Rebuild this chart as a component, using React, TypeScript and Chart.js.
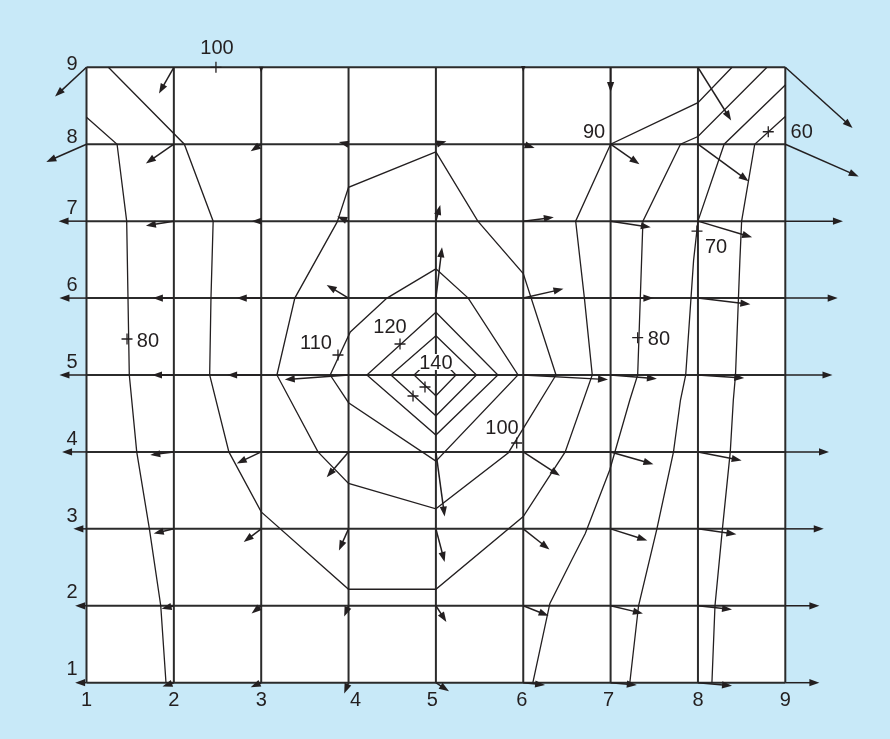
import React, { useEffect, useRef } from "react";
import { Chart, registerables } from "chart.js";

Chart.register(...registerables);

// ---------- data ----------
const GRID_X = [1, 2, 3, 4, 5, 6, 7, 8, 9];
const GRID_Y = [1, 2, 3, 4, 5, 6, 7, 8, 9];
const TICK_LABELS = ["1", "2", "3", "4", "5", "6", "7", "8", "9"];

// gradient vectors at grid nodes, rows from y = 9 down to y = 1, columns x = 1..9
const ARROW_ROWS_Y = [9, 8, 7, 6, 5, 4, 3, 2, 1];
const ARROW_U = [
  [-0.36, -0.17, 0, 0, 0, 0, 0, 0.38, 0.77],
  [-0.46, -0.32, -0.12, -0.11, 0.12, 0.13, 0.33, 0.58, 0.84],
  [-0.32, -0.32, -0.11, -0.13, 0.05, 0.35, 0.46, 0.62, 0.66],
  [-0.31, -0.24, -0.28, -0.25, 0.07, 0.46, 0.49, 0.6, 0.6],
  [-0.31, -0.25, -0.39, -0.73, 0, 0.97, 0.53, 0.53, 0.54],
  [-0.28, -0.27, -0.28, -0.25, 0.1, 0.42, 0.49, 0.5, 0.5],
  [-0.15, -0.23, -0.2, -0.11, 0.1, 0.3, 0.42, 0.44, 0.44],
  [-0.13, -0.14, -0.11, -0.05, 0.12, 0.29, 0.37, 0.39, 0.39],
  [-0.13, -0.13, -0.12, -0.05, 0.15, 0.25, 0.3, 0.39, 0.39],
];
const ARROW_V = [
  [-0.38, -0.34, -0.07, 0, 0, -0.06, -0.32, -0.69, -0.79],
  [-0.23, -0.25, -0.09, 0.03, 0.04, -0.05, -0.26, -0.48, -0.42],
  [0, -0.06, 0, 0.06, 0.21, 0.05, -0.08, -0.21, 0],
  [0, 0, 0, 0.17, 0.66, 0.12, 0, -0.08, 0],
  [0, 0, 0, -0.06, 0, -0.06, -0.05, -0.04, 0],
  [0, -0.04, -0.15, -0.33, -0.84, -0.31, -0.16, -0.11, 0],
  [0, -0.06, -0.17, -0.28, -0.43, -0.27, -0.15, -0.07, 0],
  [0, -0.04, -0.1, -0.14, -0.21, -0.13, -0.1, -0.05, 0],
  [0, -0.05, -0.06, -0.14, -0.11, -0.03, -0.03, -0.04, 0],
];

// contour lines (x, y)
const contour80L = [[1.0, 8.35], [1.35, 8.0], [1.46, 7.0], [1.475, 6.0], [1.49, 5.0], [1.575, 4.0], [1.72, 3.0], [1.85, 2.0], [1.91, 1.0]];
const contour90 = [[1.25, 9.0], [2.12, 8.0], [2.45, 7.0], [2.425, 6.0], [2.41, 5.0], [2.63, 4.0], [3.0, 3.22], [4.0, 2.215], [5.0, 2.215], [6.0, 3.16], [6.48, 4.0], [6.79, 5.0], [6.7, 6.0], [6.6, 7.0], [7.0, 8.0], [8.0, 8.54], [8.39, 9.0]];
const contour100 = [[5.0, 7.9], [5.48, 7.0], [6.0, 6.32], [6.375, 5.0], [5.83, 3.99], [5.0, 3.26], [4.0, 3.59], [3.65, 4.0], [3.18, 5.0], [3.385, 6.0], [3.87, 6.99], [4.0, 7.44], [5.0, 7.9]];
const contour110 = [[5.0, 6.38], [5.37, 6.0], [5.94, 5.0], [5.0, 3.88], [4.0, 4.64], [3.79, 5.0], [4.02, 5.56], [4.44, 6.0], [5.0, 6.38]];
const contour120 = [[5.0, 5.815], [5.71, 5.0], [5.0, 4.22], [4.21, 5.0], [5.0, 5.815]];
const contour130 = [[5.0, 5.51], [5.465, 5.0], [5.0, 4.47], [4.485, 5.0], [5.0, 5.51]];
const contour140 = [[5.0, 5.27], [5.23, 5.0], [5.0, 4.73], [4.75, 5.0], [5.0, 5.27]];
const contour80R = [[8.79, 9.0], [8.0, 8.1], [7.8, 8.0], [7.37, 7.0], [7.31, 5.0], [7.22, 4.675], [6.99, 3.765], [6.71, 2.94], [6.555, 2.595], [6.305, 2.03], [6.11, 1.0]];
const contour70 = [[9.0, 8.77], [8.3, 8.0], [8.0, 7.0], [7.95, 6.49], [7.86, 5.0], [7.8, 4.675], [7.72, 4.0], [7.53, 3.0], [7.32, 2.0], [7.22, 1.0]];
const contour60 = [[9.0, 8.36], [8.65, 8.0], [8.5, 7.0], [8.48, 6.49], [8.43, 5.0], [8.405, 4.675], [8.37, 4.0], [8.28, 3.0], [8.195, 2.0], [8.16, 1.0]];
const CONTOURS = [contour80L, contour90, contour100, contour110, contour120, contour130, contour140, contour80R, contour70, contour60];

// contour value labels
const LABEL_TEXT = ["100", "90", "60", "70", "80", "80", "110", "120", "140", "100"];
const LABEL_X = [2.494, 6.81, 9.188, 8.207, 1.704, 7.554, 3.627, 4.474, 5.0, 5.757];
const LABEL_Y = [9.263, 8.171, 8.171, 6.677, 5.455, 5.48, 5.429, 5.637, 5.169, 4.324];
const LABEL_BOXED = [false, false, false, false, false, false, false, false, true, false];

// "+" marks
const PLUS_X = [2.482, 8.805, 7.989, 1.464, 7.31, 3.879, 4.589, 5.925, 4.875, 4.738];
const PLUS_Y = [9.0, 8.162, 6.871, 5.468, 5.485, 5.26, 5.403, 4.116, 4.844, 4.727];

// ---------- style ----------
const BG = "#c8e9f8";
const INK = "#231f20";
const FONT = '20px "Liberation Sans", Arial, sans-serif';
const HEAD_LEN = 10;
const HEAD_W = 3.6;
const X_TICK_SHIFT: Record<string, number> = { "4": 7, "5": -3.5, "6": -1.5, "7": -2 };
const Y_TICK_RAISE: Record<string, number> = { "9": 5, "8": 8.5 };

function drawArrow(ctx: CanvasRenderingContext2D, x0: number, y0: number, x1: number, y1: number) {
  const dx = x1 - x0;
  const dy = y1 - y0;
  const len = Math.hypot(dx, dy);
  if (len < 0.5) return;
  const ux = dx / len;
  const uy = dy / len;
  const hl = Math.min(HEAD_LEN, Math.max(len, 6));
  const hw = (HEAD_W * hl) / HEAD_LEN;
  const bx = x1 - ux * hl;
  const by = y1 - uy * hl;
  if (len > hl) {
    ctx.beginPath();
    ctx.moveTo(x0, y0);
    ctx.lineTo(bx + ux * 1, by + uy * 1);
    ctx.stroke();
  }
  ctx.beginPath();
  ctx.moveTo(x1, y1);
  ctx.lineTo(bx - uy * hw, by + ux * hw);
  ctx.lineTo(bx + uy * hw, by - ux * hw);
  ctx.closePath();
  ctx.fill();
}

const decorPlugin = {
  id: "fieldDecor",
  beforeDraw(chart: any) {
    const { ctx, width, height } = chart;
    const xs = chart.scales.x;
    const ys = chart.scales.y;
    ctx.save();
    ctx.fillStyle = BG;
    ctx.fillRect(0, 0, width, height);
    const l = xs.getPixelForValue(GRID_X[0]);
    const r = xs.getPixelForValue(GRID_X[GRID_X.length - 1]);
    const t = ys.getPixelForValue(GRID_Y[GRID_Y.length - 1]);
    const b = ys.getPixelForValue(GRID_Y[0]);
    ctx.fillStyle = "#ffffff";
    ctx.fillRect(l, t, r - l, b - t);
    ctx.restore();
  },
  beforeDatasetsDraw(chart: any) {
    const { ctx } = chart;
    const xs = chart.scales.x;
    const ys = chart.scales.y;
    const l = xs.getPixelForValue(GRID_X[0]);
    const r = xs.getPixelForValue(GRID_X[GRID_X.length - 1]);
    const t = ys.getPixelForValue(GRID_Y[GRID_Y.length - 1]);
    const b = ys.getPixelForValue(GRID_Y[0]);
    ctx.save();
    ctx.strokeStyle = "#2b2b2b";
    ctx.lineWidth = 2;
    GRID_X.forEach((gx) => {
      const p = xs.getPixelForValue(gx);
      ctx.beginPath();
      ctx.moveTo(p, t);
      ctx.lineTo(p, b);
      ctx.stroke();
    });
    GRID_Y.forEach((gy) => {
      const p = ys.getPixelForValue(gy);
      ctx.beginPath();
      ctx.moveTo(l, p);
      ctx.lineTo(r, p);
      ctx.stroke();
    });
    ctx.restore();
  },
  afterDatasetsDraw(chart: any) {
    const { ctx } = chart;
    const xs = chart.scales.x;
    const ys = chart.scales.y;
    ctx.save();
    // arrows
    ctx.strokeStyle = INK;
    ctx.fillStyle = INK;
    ctx.lineWidth = 1.5;
    ARROW_ROWS_Y.forEach((gy, ri) => {
      GRID_X.forEach((gx, ci) => {
        const u = ARROW_U[ri][ci];
        const v = ARROW_V[ri][ci];
        if (u === 0 && v === 0) return;
        drawArrow(
          ctx,
          xs.getPixelForValue(gx),
          ys.getPixelForValue(gy),
          xs.getPixelForValue(gx + u),
          ys.getPixelForValue(gy + v)
        );
      });
    });
    // contour labels
    ctx.font = FONT;
    ctx.textAlign = "center";
    ctx.textBaseline = "alphabetic";
    LABEL_TEXT.forEach((txt, i) => {
      const px = xs.getPixelForValue(LABEL_X[i]);
      const py = ys.getPixelForValue(LABEL_Y[i]);
      if (LABEL_BOXED[i]) {
        const w = ctx.measureText(txt).width;
        ctx.fillStyle = "#ffffff";
        ctx.fillRect(px - w / 2 - 1, py - 8, w + 2, 16);
      }
      ctx.fillStyle = INK;
      ctx.fillText(txt, px, py + 7.2);
    });
    // tick labels
    const bottom = ys.getPixelForValue(GRID_Y[0]);
    const left = xs.getPixelForValue(GRID_X[0]);
    GRID_X.forEach((gx, i) => {
      const txt = TICK_LABELS[i];
      const px = xs.getPixelForValue(gx) + (X_TICK_SHIFT[txt] || 0);
      ctx.fillText(txt, px, bottom + 16.5 + 7.2);
    });
    GRID_Y.forEach((gy, i) => {
      const txt = TICK_LABELS[i];
      const py = ys.getPixelForValue(gy) - (Y_TICK_RAISE[txt] ?? 14.5);
      ctx.fillText(txt, left - 14.5, py + 7.2);
    });
    ctx.restore();
  },
};

export default function App() {
  const ref = useRef<HTMLCanvasElement>(null);
  useEffect(() => {
    if (!ref.current) return;
    const datasets: any[] = CONTOURS.map((c) => ({
      data: c.map(([x, y]) => ({ x, y })),
      showLine: true,
      borderColor: INK,
      borderWidth: 1.3,
      pointRadius: 0,
      fill: false,
      tension: 0,
      clip: false,
    }));
    datasets.push({
      data: PLUS_X.map((x, i) => ({ x, y: PLUS_Y[i] })),
      showLine: false,
      pointStyle: "cross",
      pointRadius: 5.5,
      borderColor: INK,
      backgroundColor: INK,
      borderWidth: 1.3,
      clip: false,
    });
    const chart = new Chart(ref.current, {
      type: "scatter",
      data: { datasets },
      options: {
        animation: false,
        responsive: false,
        devicePixelRatio: 1,
        layout: { padding: { left: 86.5, right: 104.7, top: 67.3, bottom: 56.3 } },
        scales: {
          x: { type: "linear", min: 1, max: 9, display: false },
          y: { type: "linear", min: 1, max: 9, display: false },
        },
        plugins: { legend: { display: false }, tooltip: { enabled: false } },
        events: [],
      },
      plugins: [decorPlugin],
    });
    return () => chart.destroy();
  }, []);
  return (
    <div style={{ position: "fixed", left: 0, top: 0, width: 890, height: 739, background: BG }}>
      <canvas ref={ref} width={890} height={739} style={{ display: "block", width: 890, height: 739 }} />
    </div>
  );
}
